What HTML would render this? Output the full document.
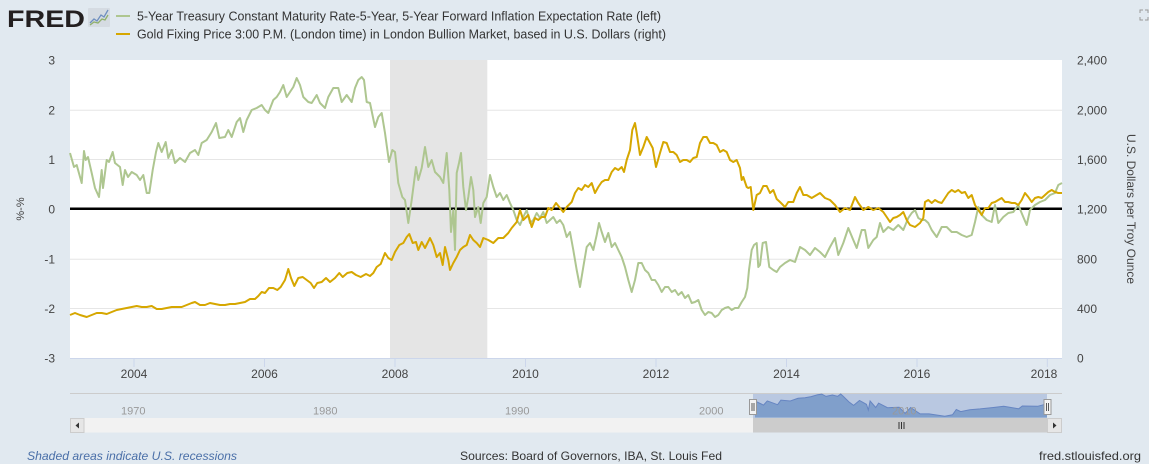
<!DOCTYPE html>
<html><head><meta charset="utf-8">
<style>
html,body{margin:0;padding:0;background:#e1e9f0;}
svg{display:block;font-family:"Liberation Sans",sans-serif;}
</style></head>
<body>
<svg width="1149" height="464" viewBox="0 0 1149 464" xmlns="http://www.w3.org/2000/svg">
<rect x="0" y="0" width="1149" height="464" fill="#e1e9f0"/>

<!-- Header logo -->
<text x="7" y="27" font-size="24" font-weight="bold" fill="#231f20" textLength="78" lengthAdjust="spacingAndGlyphs">FRED</text>
<rect x="88" y="8" width="22" height="19" fill="#d5dbe2" rx="1"/>
<polyline points="90,23 94,19 97,21 101,15 104,17 108,10" fill="none" stroke="#6f8fc0" stroke-width="1.3"/>
<polyline points="90,25 94,22 98,23 102,19 105,20 108,15" fill="none" stroke="#8fb06c" stroke-width="1.3"/>

<!-- Legend -->
<line x1="116" y1="16" x2="130" y2="16" stroke="#aec690" stroke-width="2"/>
<text x="137" y="20.5" font-size="12.5" fill="#333" textLength="524" lengthAdjust="spacingAndGlyphs">5-Year Treasury Constant Maturity Rate-5-Year, 5-Year Forward Inflation Expectation Rate (left)</text>
<line x1="116" y1="34" x2="130" y2="34" stroke="#d6a700" stroke-width="2"/>
<text x="137" y="38.5" font-size="12.5" fill="#333" textLength="529" lengthAdjust="spacingAndGlyphs">Gold Fixing Price 3:00 P.M. (London time) in London Bullion Market, based in U.S. Dollars (right)</text>

<!-- fullscreen icon -->
<g stroke="#999" stroke-width="1" fill="none">
<polyline points="1140,13 1140,10 1143,10"/>
<polyline points="1145,10 1148,10 1148,13"/>
<polyline points="1140,17 1140,20 1143,20"/>
<polyline points="1145,20 1148,20 1148,17"/>
</g>

<!-- Plot area -->
<rect x="70" y="60" width="992" height="298" fill="#ffffff"/>
<!-- gridlines -->
<g stroke="#e6e6e6" stroke-width="1">
<line x1="70" y1="110.3" x2="1062" y2="110.3"/>
<line x1="70" y1="159.5" x2="1062" y2="159.5"/>
<line x1="70" y1="259.3" x2="1062" y2="259.3"/>
<line x1="70" y1="308.5" x2="1062" y2="308.5"/>
</g>
<!-- recession -->
<rect x="390" y="60" width="97.3" height="298" fill="#e5e5e5"/>

<!-- axis line and ticks -->
<g stroke="#ccd6eb" stroke-width="1">
<line x1="70" y1="358.5" x2="1062" y2="358.5"/>
<line x1="134" y1="358" x2="134" y2="367"/>
<line x1="264.5" y1="358" x2="264.5" y2="367"/>
<line x1="395" y1="358" x2="395" y2="367"/>
<line x1="525.5" y1="358" x2="525.5" y2="367"/>
<line x1="656" y1="358" x2="656" y2="367"/>
<line x1="786.5" y1="358" x2="786.5" y2="367"/>
<line x1="917" y1="358" x2="917" y2="367"/>
<line x1="1047.3" y1="358" x2="1047.3" y2="367"/>
</g>

<!-- zero line -->
<line x1="70" y1="208.7" x2="1062" y2="208.7" stroke="#000" stroke-width="2.5"/>

<!-- Green series -->
<polyline fill="none" stroke="#aec690" stroke-width="2" stroke-linejoin="round" points="70,153 74,167 76.7,165 81.7,183 84,151 85.7,160 88,157 91.7,173 95,188 99,197 101.7,170 103,188 106.7,160 109,162 112.7,152 115,163 120,167 122.7,185 125,170 128,177 131.7,172 136.7,175 140,180 143.3,175 146.7,193 149.3,193 152.7,170 156,152 158.3,143 161.7,152 165.7,142 168.3,158 171.7,150 175,163 180,158 185,162 190,153 195,150 198.3,155 201.7,143 206.7,140 211.7,132 216,123 219.3,138 225,137 228.3,130 231.7,137 236.7,122 240,118 243.3,132 246.7,120 251.7,110 256.7,108 261.7,105 265,110 268.3,113 273.3,100 276.7,97 280,92 283.3,85 286.7,97 290,92 293.3,87 296.7,78 300,85 303.3,97 308.3,102 311.7,103 316.7,95 320,103 325,108 328.3,97 333.3,88 338.3,88 341.7,102 346.7,95 351.7,102 355,88 358.3,80 361.7,77 364,80 366.7,102 370,103 375,127 378.3,117 381.7,113 385,133 389,162 392.3,150 395,152 398.3,183 402.3,197 405,200 408.3,223 411.7,200 416,167 418.3,180 421.7,168 425,147 428.3,167 431.7,160 435,172 440,177 443.3,183 446.7,153 449.3,190 451,232 453.3,210 455,250 456.7,173 459,163 461,153 463.3,187 466,210 468.3,197 471,177 473.3,190 475,217 478.3,207 480.7,223 483.3,203 486.7,197 490,175 493.3,187 496.7,197 500,193 503.3,200 506.7,195 510,203 513.3,210 516.7,220 520,225 523.3,217 526.7,210 530,223 533.3,220 536.7,213 540,218 543.3,212 546.7,223 550,220 553.3,217 556.7,223 560,220 563.3,225 566.7,237 570,232 573.3,250 576.7,270 580,287 583.3,267 586.7,247 590,243 593.3,250 596.7,235 599,223 601.7,232 605,242 608.3,233 611.7,247 615,243 618.3,250 621.7,257 625,267 628.3,280 631.7,292 635,280 638.3,263 641.7,263 645,270 648.3,273 651.7,280 655,280 658.3,285 661.7,292 665,287 668.3,287 671.7,292 675,290 678.3,295 681.7,292 685,298 688.3,295 691.7,303 695,302 698.3,300 701.7,310 705,315 708.3,312 711.7,313 715,317 718.3,315 721.7,310 725,308 728.3,307 731.7,310 735,308 738.3,308 741.7,302 745,297 747.3,288 749,270 751.7,250 754,245 756.7,243 758.3,267 760,265 762.7,243 766,242 769.3,267 773.3,270 776.7,272 780,267 785,263 790,260 795,262 800,247 805,250 810,255 815,248 820,252 825,257 830,247 835,238 838.3,255 843.3,243 848.3,228 853.3,240 856.7,248 861.7,230 865,230 868.3,248 873.3,240 876.7,237 880,223 883.3,232 888.3,227 893.3,230 898.3,225 903.3,230 908.3,218 911.7,213 915,210 918.3,218 921.7,220 925,220 928.3,223 931.7,230 936.7,237 941.7,227 946.7,227 951.7,232 956.7,232 961.7,235 966.7,237 971.7,235 975,222 978.3,207 981.7,215 986.7,220 991.7,222 995,205 998.3,223 1003.3,217 1008.3,213 1013.3,212 1018.3,205 1023.3,217 1026.7,225 1030,210 1035,205 1040,202 1045,200 1050,195 1055,193 1058.3,185 1062,183"/>

<!-- Gold series -->
<polyline fill="none" stroke="#d6a700" stroke-width="2" stroke-linejoin="round" points="70,315 75,313 80,315 86.7,317 91.7,315 96.7,313 101.7,313 106.7,314 111.7,312 116.7,310 121.7,309 126.7,308 131.7,307 136.7,306 141.7,307 146.7,307 151.7,306 156.7,309 161.7,309 166.7,308 171.7,307 176.7,307 181.7,307 186.7,305 191.7,303 195,302 200,305 205,305 210,303 215,304 220,305 225,305 230,304 235,304 240,303 245,302 250,299 255,299 258.3,296 261.7,292 265,293 269,288 273.3,288 277.3,290 280.7,287 285,280 288.3,269 291,278 294.3,286 298.3,278 302.7,277 306.7,280 310.7,283 314,288 317.3,283 321.7,282 326,278 330,282 335,278 339.3,273 342.7,277 347.3,273 351.7,272 356,275 360.7,277 366,274 370,276 373.3,273 376.7,267 380.7,264 385,253 388.3,258 391.7,260 395,252 399.3,245 403.3,243 406.7,237 409.3,234 412.7,243 416,242 418.3,250 421.7,242 425,248 430,238 433.3,245 436.7,257 440,253 442.7,265 445,247 448.3,260 450,270 453.3,263 456.7,257 460,250 463.3,247 466.7,245 470,235 473.3,240 476.7,243 480,247 483.3,238 488.3,240 493.3,243 498.3,238 503.3,238 508.3,233 511.7,228 516.7,222 520,210 523.3,220 528.3,215 531.7,227 535,218 538.3,220 541.7,217 545,217 548.3,208 551.7,210 556,203 560,208 563.3,212 566.7,207 571.7,202 575,193 578.3,188 581.7,190 585,185 588.3,187 591.7,183 595,193 598.3,187 601.7,182 605,180 608.3,180 611.7,172 615,168 618.3,170 621.7,167 624,172 626.7,160 630,150 632.3,130 635,123 636.7,133 640,155 643.3,147 646.7,137 650,143 652.7,148 656,167 660,153 663.3,142 666.7,143 670,152 673.3,152 676.7,155 680,162 683.3,160 686.7,160 690,162 693.3,158 696.7,157 700,143 703.3,137 706.7,137 710,143 713.3,143 716.7,145 720,152 723.3,150 726.7,152 730,160 733.3,162 736.7,160 740,168 741.7,180 743.3,177 745,182 746.7,187 748.3,188 750.7,187 753.3,210 756.7,195 760,193 763.3,186 766.7,186 770,193 773.3,190 776.7,199 780,202 785,207 788.3,202 793.3,202 796.7,193 800,187 803.3,195 806.7,195 811.7,198 816.7,195 820,193 825,198 830,200 835,205 840,212 845,208 850,210 855,197 858.3,203 863.3,210 868.3,207 873.3,210 878.3,208 883.3,212 886.7,217 890,222 893.3,218 896.7,217 900,215 903.3,212 906.7,220 910,225 915,227 920,223 923.3,218 925,202 928.3,200 931.7,203 935,200 938.3,202 941.7,203 945,198 948.3,193 951.7,190 955,192 958.3,190 961.7,193 965,192 968.3,198 971.7,195 975,205 978.3,210 981.7,215 985,208 988.3,208 991.7,203 995,202 998.3,200 1001.7,198 1005,202 1008.3,202 1011.7,203 1015,203 1018.3,205 1021.7,200 1025,193 1028.3,197 1031.7,202 1035,198 1038.3,197 1041.7,198 1045,195 1048.3,192 1051.7,190 1055,192 1058.3,193 1062,193"/>

<!-- Left axis labels -->
<g font-size="12" fill="#444" text-anchor="end">
<text x="55" y="64.5">3</text>
<text x="55" y="114.5">2</text>
<text x="55" y="164">1</text>
<text x="55" y="213.5">0</text>
<text x="55" y="263.5">-1</text>
<text x="55" y="313">-2</text>
<text x="55" y="362.5">-3</text>
</g>
<text transform="translate(24,209) rotate(-90)" font-size="11" fill="#444" text-anchor="middle">%-%</text>

<!-- Right axis labels -->
<g font-size="12" fill="#444" text-anchor="start">
<text x="1077" y="64.5">2,400</text>
<text x="1077" y="114.5">2,000</text>
<text x="1077" y="164">1,600</text>
<text x="1077" y="213.5">1,200</text>
<text x="1077" y="263.5">800</text>
<text x="1077" y="313">400</text>
<text x="1077" y="362.5">0</text>
</g>
<text transform="translate(1127,209) rotate(90)" font-size="12" fill="#444" text-anchor="middle">U.S. Dollars per Troy Ounce</text>

<!-- X axis labels -->
<g font-size="12" fill="#444" text-anchor="middle">
<text x="134" y="378">2004</text>
<text x="264.5" y="378">2006</text>
<text x="395" y="378">2008</text>
<text x="525.5" y="378">2010</text>
<text x="656" y="378">2012</text>
<text x="786.5" y="378">2014</text>
<text x="917" y="378">2016</text>
<text x="1044" y="378">2018</text>
</g>

<!-- Navigator -->
<line x1="70" y1="393.5" x2="1062" y2="393.5" stroke="#cccccc" stroke-width="1"/>
<rect x="753" y="394" width="294" height="24" fill="#b9c8e1"/>
<path d="M755,417.5 L755,401 763.5,405.1 767.3,400.9 777.6,404.7 780.9,400.1 790.3,401 798,398.3 805,397.8 811.2,396.6 817.7,394.7 821.8,394.1 826,396.4 832.4,395 837.7,396.3 840.7,394 843.3,396.4 848.9,401.9 853.6,405.4 859.5,400.5 866.5,404.4 868.3,410 870.1,401 875.7,407.5 878.6,403.1 887.5,407.7 899.2,407.2 905.1,413.4 910.7,407.5 920.1,413.9 929,413.9 944.8,416.2 952.5,414.8 956.3,409.5 960.7,411.6 969.8,409.7 980.1,408.9 993.4,407.5 1003.7,406.3 1018.7,408.8 1022.3,406 1037.6,406.3 1047,403.8 L1047,417.5 Z" fill="#809fcb" stroke="none"/>
<polyline points="755,401 763.5,405.1 767.3,400.9 777.6,404.7 780.9,400.1 790.3,401 798,398.3 805,397.8 811.2,396.6 817.7,394.7 821.8,394.1 826,396.4 832.4,395 837.7,396.3 840.7,394 843.3,396.4 848.9,401.9 853.6,405.4 859.5,400.5 866.5,404.4 868.3,410 870.1,401 875.7,407.5 878.6,403.1 887.5,407.7 899.2,407.2 905.1,413.4 910.7,407.5 920.1,413.9 929,413.9 944.8,416.2 952.5,414.8 956.3,409.5 960.7,411.6 969.8,409.7 980.1,408.9 993.4,407.5 1003.7,406.3 1018.7,408.8 1022.3,406 1037.6,406.3 1047,403.8" fill="none" stroke="#6685c2" stroke-width="1"/>
<g font-size="11" fill="#999">
<text x="121" y="414.5">1970</text>
<text x="313" y="414.5">1980</text>
<text x="505" y="414.5">1990</text>
<text x="699" y="414.5">2000</text>
<text x="892" y="414.5">2010</text>
</g>
<!-- handles -->
<rect x="749.5" y="399.5" width="7" height="15" fill="#f2f2f2" stroke="#999" stroke-width="1"/>
<line x1="752" y1="403" x2="752" y2="411" stroke="#333" stroke-width="0.8"/>
<line x1="754" y1="403" x2="754" y2="411" stroke="#333" stroke-width="0.8"/>
<rect x="1044" y="399.5" width="7" height="15" fill="#f2f2f2" stroke="#999" stroke-width="1"/>
<line x1="1046.5" y1="403" x2="1046.5" y2="411" stroke="#333" stroke-width="0.8"/>
<line x1="1048.5" y1="403" x2="1048.5" y2="411" stroke="#333" stroke-width="0.8"/>

<!-- Scrollbar -->
<rect x="70" y="418" width="992" height="14.5" fill="#f2f2f2"/>
<rect x="70.5" y="418.5" width="13.5" height="14" fill="#e6e6e6" stroke="#cccccc" stroke-width="1"/>
<path d="M79,422.5 L75.5,425.5 L79,428.5 Z" fill="#333"/>
<rect x="753" y="418" width="294" height="14.5" fill="#cccccc"/>
<g stroke="#333" stroke-width="1">
<line x1="899" y1="422" x2="899" y2="429"/>
<line x1="901.5" y1="422" x2="901.5" y2="429"/>
<line x1="904" y1="422" x2="904" y2="429"/>
</g>
<rect x="1047.5" y="418.5" width="14" height="14" fill="#e6e6e6" stroke="#cccccc" stroke-width="1"/>
<path d="M1053,422.5 L1056.5,425.5 L1053,428.5 Z" fill="#333"/>

<!-- Footer -->
<text x="27" y="460" font-size="12" font-style="italic" fill="#4a6fa8" textLength="210" lengthAdjust="spacingAndGlyphs">Shaded areas indicate U.S. recessions</text>
<text x="460" y="460" font-size="12" fill="#333" textLength="262" lengthAdjust="spacingAndGlyphs">Sources: Board of Governors, IBA, St. Louis Fed</text>
<text x="1039" y="460" font-size="12" fill="#333" textLength="102" lengthAdjust="spacingAndGlyphs">fred.stlouisfed.org</text>
</svg>
</body></html>
